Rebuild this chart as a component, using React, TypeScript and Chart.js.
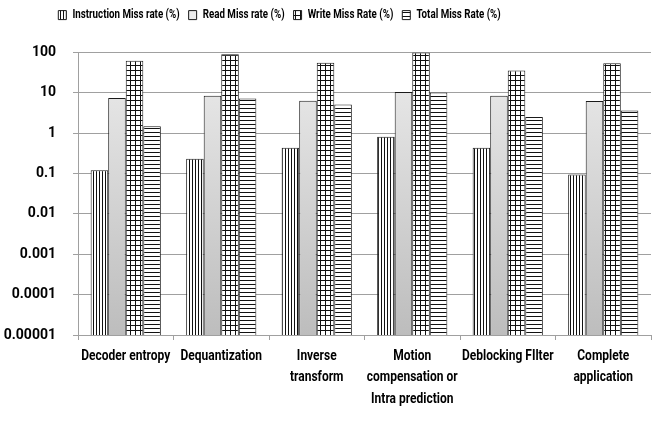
import { useEffect, useRef } from 'react';
import { Chart, registerables } from 'chart.js';

Chart.register(...registerables);

const categories: (string | string[])[] = [
  'Decoder entropy',
  'Dequantization',
  ['Inverse', 'transform'],
  ['Motion', 'compensation or', 'Intra prediction'],
  'Deblocking FIlter',
  ['Complete', 'application'],
];

const seriesNames = [
  'Instruction Miss rate (%)',
  'Read Miss rate (%)',
  'Write Miss Rate (%)',
  'Total Miss Rate (%)',
];

const instructionMiss = [0.12, 0.23, 0.43, 0.81, 0.43, 0.094];
const readMiss = [7.4, 8.3, 6.3, 10.4, 8.3, 6.2];
const writeMiss = [61, 89, 55, 99, 35, 53];
const totalMiss = [1.46, 7.1, 5.1, 10, 2.5, 3.6];

const yTickValues = [100, 10, 1, 0.1, 0.01, 0.001, 0.0001, 0.00001];
const yTickLabels = ['100', '10', '1', '0.1', '0.01', '0.001', '0.0001', '0.00001'];

const FONT = "Roboto, Lato, sans-serif";
const SQUEEZE = 0.8;

function makePattern(kind: 'v' | 'h' | 'grid'): CanvasPattern | string {
  const c = document.createElement('canvas');
  const size = kind === 'v' ? 3 : kind === 'h' ? 4 : 5;
  c.width = size;
  c.height = size;
  const g = c.getContext('2d');
  if (!g) return '#fff';
  g.fillStyle = '#ffffff';
  g.fillRect(0, 0, size, size);
  g.fillStyle = '#111111';
  if (kind === 'v' || kind === 'grid') g.fillRect(0, 0, 1, size);
  if (kind === 'h' || kind === 'grid') g.fillRect(0, 0, size, 1);
  const p = g.createPattern(c, 'repeat');
  return p || '#fff';
}

// Narrow (Calibri-like) text: squeeze words horizontally, keep numbers as they are.
function condenseText(ctx: CanvasRenderingContext2D) {
  const origMeasure = ctx.measureText.bind(ctx);
  const origFill = ctx.fillText.bind(ctx);
  const factor = (t: string) => (/[A-Za-z]/.test(t) ? SQUEEZE : 1);
  (ctx as any).measureText = (t: string) => {
    const m = origMeasure(t);
    const f = factor(t);
    return {
      width: m.width * f,
      actualBoundingBoxAscent: m.actualBoundingBoxAscent,
      actualBoundingBoxDescent: m.actualBoundingBoxDescent,
      actualBoundingBoxLeft: m.actualBoundingBoxLeft * f,
      actualBoundingBoxRight: m.actualBoundingBoxRight * f,
      fontBoundingBoxAscent: m.fontBoundingBoxAscent,
      fontBoundingBoxDescent: m.fontBoundingBoxDescent,
    };
  };
  (ctx as any).fillText = (t: string, x: number, y: number, mw?: number) => {
    const w = origMeasure(t).width * factor(t);
    origFill(t, x, y, mw !== undefined ? Math.min(mw, w) : w);
  };
}

export default function App() {
  const ref = useRef<HTMLCanvasElement | null>(null);

  useEffect(() => {
    const canvas = ref.current;
    if (!canvas) return;
    const ctx2d = canvas.getContext('2d');
    if (ctx2d) condenseText(ctx2d);

    const vPat = makePattern('v');
    const hPat = makePattern('h');
    const gridPat = makePattern('grid');

    const readFill = (ctx: any) => {
      const chart = ctx.chart;
      const area = chart.chartArea;
      if (!area) return '#d4d4d4';
      const grad = chart.ctx.createLinearGradient(0, area.top, 0, area.bottom);
      grad.addColorStop(0, '#ececec');
      grad.addColorStop(1, '#bdbdbd');
      return grad;
    };

    const legendSpacer = {
      id: 'legendSpacer',
      beforeInit(chart: any) {
        const legend = chart.legend;
        if (!legend) return;
        const origFit = legend.fit;
        legend.fit = function () {
          origFit.call(this);
          this.height += 21;
        };
      },
      afterLayout(chart: any) {
        const legend = chart.legend;
        if (!legend) return;
        legend.left -= 46;
        legend.right -= 46;
      },
    };

    const common = { borderColor: '#1a1a1a', borderWidth: 1 };

    const chart = new Chart(canvas, {
      type: 'bar',
      data: {
        labels: categories,
        datasets: [
          { label: seriesNames[0], data: instructionMiss, backgroundColor: vPat as any, ...common },
          { label: seriesNames[1], data: readMiss, backgroundColor: readFill as any, ...common },
          { label: seriesNames[2], data: writeMiss, backgroundColor: gridPat as any, ...common },
          { label: seriesNames[3], data: totalMiss, backgroundColor: hPat as any, ...common },
        ],
      },
      options: {
        animation: false,
        responsive: true,
        maintainAspectRatio: false,
        layout: { padding: { left: 0, right: 19, top: 0, bottom: 0 } },
        datasets: {
          bar: { categoryPercentage: 0.735, barPercentage: 1 },
        },
        plugins: {
          tooltip: { enabled: false },
          legend: {
            position: 'top',
            labels: {
              boxWidth: 8,
              boxHeight: 9,
              padding: 9,
              color: '#000',
              font: { family: FONT, size: 12.2, weight: 'bold' },
            },
          },
        },
        scales: {
          x: {
            grid: {
              display: true,
              drawOnChartArea: false,
              offset: true,
              tickLength: 5,
              color: '#a0a0a0',
            },
            border: { color: '#a0a0a0' },
            ticks: {
              color: '#000',
              autoSkip: false,
              maxRotation: 0,
              padding: 5,
              font: { family: FONT, size: 15, weight: 'bold', lineHeight: 1.45 },
            },
            afterFit: (s: any) => {
              s.height = 88;
            },
          },
          y: {
            type: 'logarithmic',
            min: 0.00001,
            max: 100,
            afterBuildTicks: (s: any) => {
              s.ticks = yTickValues.map((v) => ({ value: v }));
            },
            afterFit: (s: any) => {
              s.width = 78;
            },
            grid: { color: '#a0a0a0', tickLength: 5 },
            border: { color: '#a0a0a0' },
            ticks: {
              color: '#000',
              padding: 17,
              font: { family: FONT, size: 14, weight: 'bold' },
              callback: (v: any) => {
                const i = yTickValues.findIndex((t) => Math.abs(t - Number(v)) / t < 1e-6);
                return i >= 0 ? yTickLabels[i] : '';
              },
            },
          },
        },
      },
      plugins: [legendSpacer],
    });
    return () => chart.destroy();
  }, []);

  return (
    <div style={{ position: 'fixed', left: 0, top: 0, width: 670, height: 423, background: '#fff' }}>
      <canvas ref={ref} />
    </div>
  );
}
